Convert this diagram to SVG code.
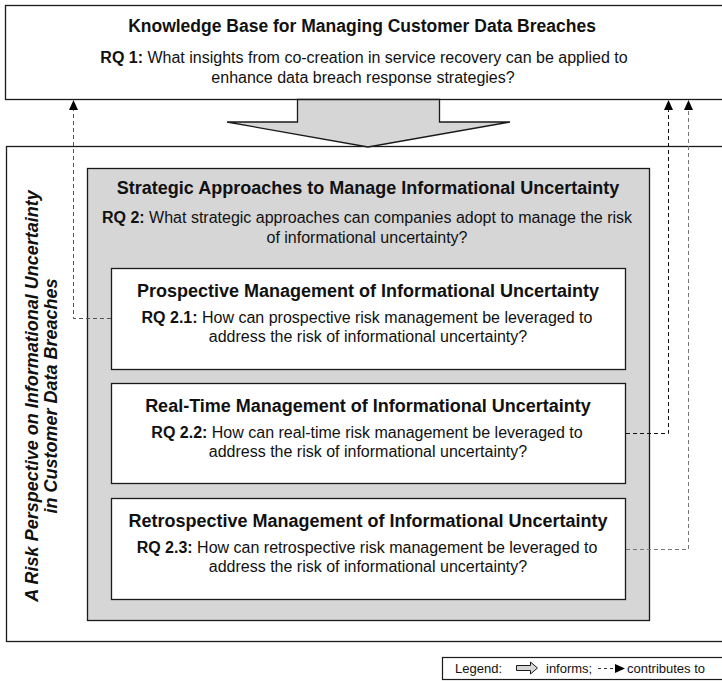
<svg xmlns="http://www.w3.org/2000/svg" width="722" height="681" viewBox="0 0 722 681">
<defs>
<style>
text{font-family:"Liberation Sans",Arial,sans-serif;fill:#111}
.t{font-size:18px;font-weight:bold;text-anchor:middle}
.b{font-size:16px;text-anchor:middle}
.b tspan.k{font-weight:bold}
.v{font-size:18px;font-weight:bold;font-style:italic;text-anchor:middle}
.lg{font-size:13px}
.box{fill:#fff;stroke:#1a1a1a;stroke-width:1.3}
.gray{fill:#d6d6d6;stroke:#1a1a1a;stroke-width:1.3}
.dash{fill:none;stroke:#333;stroke-width:1;stroke-dasharray:4 3}
</style>
<marker id="ah" markerWidth="10" markerHeight="10" refX="0" refY="5" orient="auto" markerUnits="userSpaceOnUse" viewBox="0 0 10 10">
<path d="M0,0.5 L10,5 L0,9.5 z" fill="#000"/>
</marker>
</defs>

<g id="outer">
<rect class="box" x="6.5" y="146.5" width="730" height="495"/>
<text class="v" transform="translate(38,396) rotate(-90)">A Risk Perspective on Informational Uncertainty</text>
<text class="v" transform="translate(57,396) rotate(-90)">in Customer Data Breaches</text>
</g>

<g id="knowledge-base">
<rect class="box" x="5.5" y="5.5" width="730" height="94"/>
<text class="t" x="362" y="32" style="font-size:17.5px">Knowledge Base for Managing Customer Data Breaches</text>
<text class="b" x="364" y="63"><tspan class="k">RQ 1:</tspan> What insights from co-creation in service recovery can be applied to</text>
<text class="b" x="363" y="83">enhance data breach response strategies?</text>
</g>

<g id="strategic">
<rect class="gray" x="87.5" y="168.5" width="562" height="452"/>
<text class="t" x="368" y="194">Strategic Approaches to Manage Informational Uncertainty</text>
<text class="b" x="367" y="223"><tspan class="k">RQ 2:</tspan> What strategic approaches can companies adopt to manage the risk</text>
<text class="b" x="367" y="243">of informational uncertainty?</text>
</g>

<g id="prospective">
<rect class="box" x="111.5" y="268.5" width="514" height="101"/>
<text class="t" x="368" y="297">Prospective Management of Informational Uncertainty</text>
<text class="b" x="367" y="323"><tspan class="k">RQ 2.1:</tspan> How can prospective risk management be leveraged to</text>
<text class="b" x="368" y="342">address the risk of informational uncertainty?</text>
</g>

<g id="real-time">
<rect class="box" x="111.5" y="383.5" width="514" height="100"/>
<text class="t" x="368" y="412">Real-Time Management of Informational Uncertainty</text>
<text class="b" x="367" y="438"><tspan class="k">RQ 2.2:</tspan> How can real-time risk management be leveraged to</text>
<text class="b" x="368" y="457">address the risk of informational uncertainty?</text>
</g>

<g id="retrospective">
<rect class="box" x="111.5" y="498.5" width="514" height="101"/>
<text class="t" x="368" y="527">Retrospective Management of Informational Uncertainty</text>
<text class="b" x="367" y="553"><tspan class="k">RQ 2.3:</tspan> How can retrospective risk management be leveraged to</text>
<text class="b" x="368" y="572">address the risk of informational uncertainty?</text>
</g>

<g id="connectors">
<path class="gray" d="M297.5,99.5 L439.5,99.5 L439.5,122 L510,122 L368,147 L227,122 L297.5,122 Z"/>
<path class="dash" style="stroke:#555" d="M111,318.5 L73.5,318.5 L73.5,110" marker-end="url(#ah)"/>
<path class="dash" style="stroke:#111" d="M626,433.5 L668.5,433.5 L668.5,110" marker-end="url(#ah)"/>
<path class="dash" style="stroke:#777" d="M626,549.5 L688.5,549.5 L688.5,110" marker-end="url(#ah)"/>
</g>

<g id="legend">
<rect x="442.5" y="657.5" width="300" height="22" fill="#fff" stroke="#1a1a1a" stroke-width="1.2"/>
<text class="lg" x="455" y="673">Legend:</text>
<path d="M516.5,665.5 L530.5,665.5 L530.5,662 L537.5,668 L530.5,674 L530.5,670.5 L516.5,670.5 Z" fill="#d6d6d6" stroke="#1a1a1a" stroke-width="1"/>
<text class="lg" x="546" y="673">informs;</text>
<path class="dash" d="M598,668.5 L615,668.5" style="stroke-dasharray:3 3" marker-end="url(#ah)"/>
<text class="lg" x="627" y="673">contributes to</text>
</g>
</svg>
